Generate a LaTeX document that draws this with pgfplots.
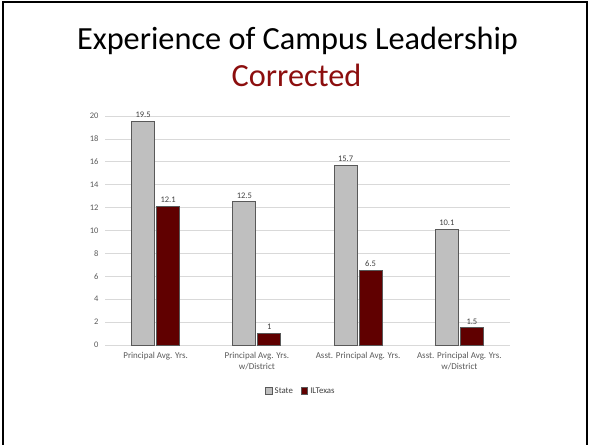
\documentclass[border=0pt]{standalone}
\usepackage{fontspec}
\setmainfont{Carlito}
\usepackage{pgfplots}
\pgfplotsset{compat=1.18}

\definecolor{stategray}{RGB}{191,191,191}
\definecolor{ilred}{RGB}{96,0,0}
\definecolor{titlered}{RGB}{140,14,14}
\definecolor{ticktext}{RGB}{89,89,89}
\definecolor{gridgray}{RGB}{217,217,217}

\begin{document}
\begin{tikzpicture}[x=1pt,y=1pt]
  \useasboundingbox (0,0) rectangle (591,444);
  \draw[line width=2.5pt] (3,-10) -- (3,442) -- (587,442) -- (587,-10);

  \node[anchor=base, font=\fontsize{32.3}{36}\selectfont] at (297.5,394) {Experience of Campus Leadership};
  \node[anchor=base, font=\fontsize{32.3}{36}\selectfont, text=titlered] at (296.5,357) {Corrected};

  \begin{axis}[
      at={(105pt,99pt)}, anchor=south west,
      scale only axis,
      width=405pt, height=229pt,
      ybar, bar width=23pt,
      xmin=-0.5, xmax=3.5,
      ymin=0, ymax=20,
      ytick={0,2,...,20},
      xtick={0,1,2,3},
      xticklabels={Principal Avg. Yrs., Principal Avg. Yrs.\\w/District, Asst. Principal Avg. Yrs., Asst. Principal Avg. Yrs.\\w/District},
      xticklabel style={align=center, font=\fontsize{9}{11}\selectfont, text=ticktext, anchor=north, yshift=-4pt},
      yticklabel style={font=\fontsize{8.5}{10}\selectfont, text=ticktext, xshift=-3pt},
      /pgf/number format/assume math mode=true,
      major tick length=0pt,
      axis x line*=bottom, axis y line*=left,
      x axis line style={gridgray, line width=0.8pt},
      y axis line style={draw=none},
      ymajorgrids, grid style={gridgray, line width=0.6pt},
      clip=false,
      nodes near coords,
      every node near coord/.append style={font=\fontsize{8.5}{10}\selectfont, text=black!75},
      legend columns=2,
      legend style={draw=none, font=\fontsize{8.8}{10}\selectfont, text=black!75,
                    at={(196pt,-46pt)}, anchor=center,
                    /tikz/every even column/.append style={column sep=6pt}},
      legend image code/.code={\draw[#1, bar width=0pt] (0pt,-3.2pt) rectangle (6.5pt,3.2pt);},
    ]
    \addplot[fill=stategray, draw=black!65, line width=0.8pt] coordinates {(0,19.5) (1,12.5) (2,15.7) (3,10.1)};
    \addplot[fill=ilred, draw=black!65, line width=0.8pt] coordinates {(0,12.1) (1,1) (2,6.5) (3,1.5)};
    \legend{State, ILTexas}
  \end{axis}
\end{tikzpicture}
\end{document}
